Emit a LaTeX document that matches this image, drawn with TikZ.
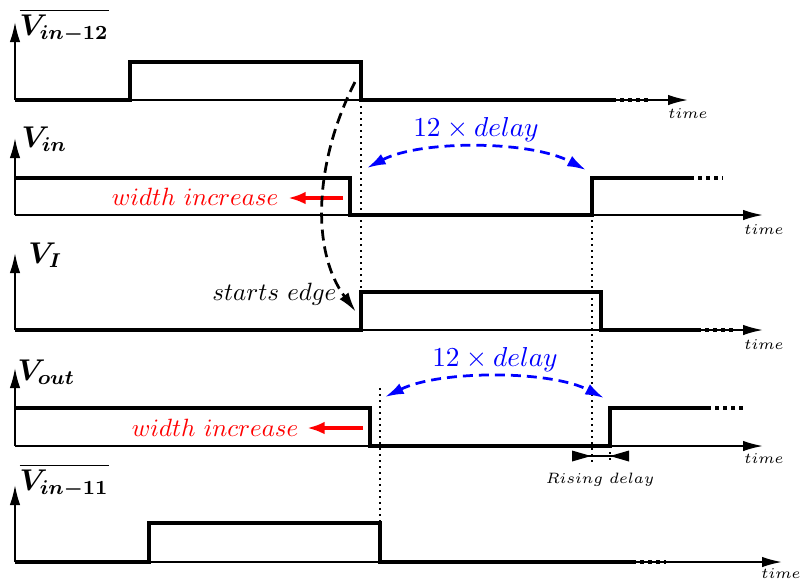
\documentclass[tikz,border=0pt]{standalone}
\usepackage{amsmath}
\usetikzlibrary{arrows.meta}
\begin{document}
\begin{tikzpicture}[x=0.4pt,y=-0.4pt,
  axis/.style={line width=0.75pt,-{Latex[length=8pt,width=4.2pt]}},
  sig/.style={line width=1.95pt,line join=miter},
  sigdots/.style={line width=1.95pt,dash pattern=on 1.6pt off 1.6pt},
  vdot/.style={line width=0.9pt,dash pattern=on 0.9pt off 1.5pt},
  lbl/.style={anchor=base west,inner sep=0pt,font=\fontsize{12}{14}\selectfont},
  timelbl/.style={anchor=base,inner sep=0pt,font=\fontsize{6.2}{7}\selectfont},
  redarrow/.style={red,line width=1.9pt,-{Latex[length=7pt,width=5pt]}},
  redtxt/.style={red,anchor=base east,inner sep=0pt,font=\fontsize{10}{12}\selectfont},
  bluearc/.style={blue,line width=1.1pt,dash pattern=on 4pt off 2.4pt,{Latex[length=7.5pt,width=4.6pt]}-{Latex[length=7.5pt,width=4.6pt]}},
  bluetxt/.style={blue,anchor=base,inner sep=0pt,font=\fontsize{11}{13}\selectfont}
]
\useasboundingbox (0,0) rectangle (800,583);

% Row 1: overline V_in-12
\draw[axis] (15,100) -- (15,22);
\draw[axis] (15,100) -- (688,100);
\draw[sig] (15,100) -- (130,100) -- (130,62) -- (361,62) -- (361,100) -- (612,100);
\draw[sigdots] (612,100) -- (648,100);
\node[lbl] (l1) at (19,35) {$\overline{\boldsymbol{V_{in-12}}}$};
\node[timelbl] (t1) at (688,118) {$time$};

% Row 2: V_in
\draw[axis] (15,215) -- (15,138);
\draw[axis] (15,215) -- (763,215);
\draw[sig] (15,178) -- (350,178) -- (350,215) -- (592,215) -- (592,178) -- (690,178);
\draw[sigdots] (690,178) -- (723,178);
\node[lbl] (l2) at (21,147) {$\boldsymbol{V_{in}}$};
\node[timelbl] (t2) at (764,234) {$time$};

% Row 3: V_I
\draw[axis] (15,330) -- (15,253);
\draw[axis] (15,330) -- (763,330);
\draw[sig] (15,330) -- (361,330) -- (361,292) -- (601,292) -- (601,330) -- (697,330);
\draw[sigdots] (697,330) -- (733,330);
\node[lbl] (l3) at (28,263) {$\boldsymbol{V_{I}}$};
\node[timelbl] (t3) at (764,349) {$time$};

% Row 4: V_out
\draw[axis] (15,446) -- (15,368);
\draw[axis] (15,446) -- (763,446);
\draw[sig] (15,408) -- (370,408) -- (370,446) -- (610,446) -- (610,408) -- (707,408);
\draw[sigdots] (707,408) -- (743,408);
\node[lbl] (l4) at (17,380) {$\boldsymbol{V_{out}}$};
\node[timelbl] (t4) at (764,463) {$time$};

% Row 5: overline V_in-11
\draw[axis] (15,562) -- (15,485);
\draw[axis] (15,562) -- (782,562);
\draw[sig] (15,562) -- (149,562) -- (149,523) -- (380,523) -- (380,562) -- (632,562);
\draw[sigdots] (632,562) -- (666,562);
\node[lbl] (l5) at (19,490) {$\overline{\boldsymbol{V_{in-11}}}$};
\node[timelbl] (t5) at (781,578) {$time$};

% dotted guide lines
\draw[vdot] (361,100) -- (361,292);
\draw[vdot] (592,178) -- (592,463);
\draw[vdot] (610,446) -- (610,463);
\draw[vdot] (380,388) -- (380,523);

% rising delay
\draw[line width=0.5pt] (572,456) -- (629,456);
\fill (572,450.5) -- (591,456) -- (572,461.5) -- cycle;
\fill (629,450.5) -- (610,456) -- (629,461.5) -- cycle;
\node[timelbl] (rd) at (600,483) {$Rising\ delay$};

% red arrows
\draw[redarrow] (343,198) -- (288,198);
\node[redtxt] (w1) at (279,205) {$width\ increase$};
\draw[redarrow] (363,428) -- (307,428);
\node[redtxt] (w2) at (299,436) {$width\ increase$};

% blue arcs
\draw[bluearc] (367,168) .. controls (420,140) and (530,140) .. (586,170);
\node[bluetxt] (b1) at (476,136) {$12\times delay$};
\draw[bluearc] (385,397) .. controls (440,370) and (550,370) .. (604,398);
\node[bluetxt] (b2) at (495,366) {$12\times delay$};

% black dashed curve
\draw[line width=1.1pt,dash pattern=on 4.4pt off 2.4pt,-{Latex[length=8pt,width=4.4pt]}]
  (355,82) .. controls (315,160) and (310,250) .. (356,312);
\node[anchor=base east,inner sep=0pt,font=\fontsize{10}{12}\selectfont] (se) at (337,300) {$starts\ edge$};
\end{tikzpicture}
\end{document}
